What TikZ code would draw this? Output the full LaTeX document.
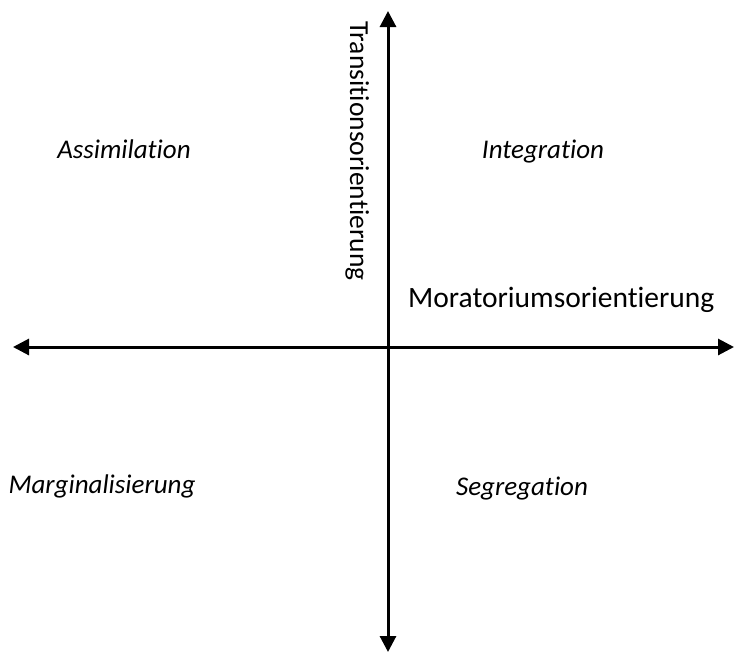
\documentclass[tikz,border=0pt]{standalone}
\usepackage{fontspec}
\setmainfont{Carlito}[Ligatures=NoCommon]
\usetikzlibrary{arrows.meta}

\begin{document}
\begin{tikzpicture}[x=1pt,y=-1pt,
  axis/.style={line width=3pt,-{Triangle[length=16pt,width=16pt]}},
  quadlabel/.style={inner sep=0pt,anchor=base,font=\fontsize{27}{32}\selectfont\itshape},
  axislabel/.style={inner sep=0pt,font=\fontsize{29.5}{35}\selectfont}]

% Canvas of the same size as the reference
\useasboundingbox (0,0) rectangle (734,654);

% Origin of the axes
\coordinate (O) at (388,347);

% Axis ends
\coordinate (L) at (13,347);
\coordinate (R) at (734,347);
\coordinate (T) at (388,11);
\coordinate (B) at (388,652);

% Draw the two axes (arrow at each end)
\draw[axis] (O) -- (L);
\draw[axis] (O) -- (R);
\draw[axis] (O) -- (T);
\draw[axis] (O) -- (B);

% Axis labels
\node[axislabel, font=\fontsize{27.5}{33}\selectfont, rotate=-90, anchor=base west]
  (trans) at (350,21) {Transitionsorientierung};
\node[axislabel, anchor=base west] (mora) at (408,307) {Moratoriumsorientierung};

% Quadrant labels
\node[quadlabel] (assim) at (124,158) {Assimilation};
\node[quadlabel] (integ) at (543,158) {Integration};
\node[quadlabel] (margin) at (102,493) {Marginalisierung};
\node[quadlabel] (segreg) at (522,495) {Segregation};

\end{tikzpicture}
\end{document}
